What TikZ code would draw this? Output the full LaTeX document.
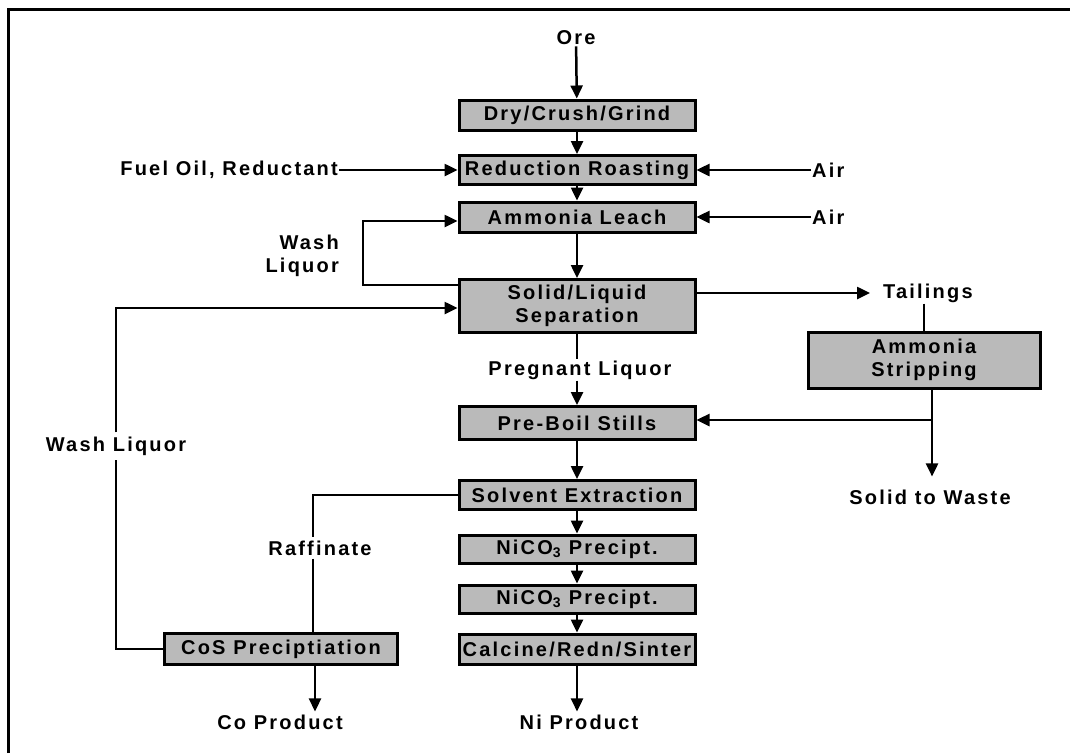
\documentclass[tikz,border=0pt]{standalone}
\usepackage{fontspec}
\setmainfont{Liberation Sans}[LetterSpace=11]
\usetikzlibrary{arrows.meta}
\newcommand\dgfont{\fontsize{20}{23}\selectfont\bfseries}
\begin{document}
\begin{tikzpicture}[x=1pt,y=-1pt,
  box/.style={draw, line width=3pt, fill=black!27, minimum width=236pt, inner sep=0pt, align=center, font=\dgfont},
  lbl/.style={inner sep=1pt, align=center, font=\dgfont},
  conn/.style={line width=2.5pt},
  arr/.style={line width=2.5pt, -{Triangle[length=13pt,width=12pt]}},
]
\useasboundingbox (0,0) rectangle (1070,753);
\draw[line width=3pt] (8.5,753) -- (8.5,9.5) -- (1070,9.5);

% main column
\node[lbl] (ore) at (576,38) {Ore};
\node[box, minimum height=30pt] (dry) at (577,115) {Dry/Crush/Grind};
\node[box, minimum height=29pt] (red) at (577,170) {Reduction Roasting};
\node[box, minimum height=30pt] (leach) at (577,217) {Ammonia Leach};
\node[box, minimum height=53pt] (sep) at (577,306) {Solid/Liquid\\Separation};
\node[lbl] (preg) at (580,370) {Pregnant Liquor};
\node[box, minimum height=33pt] (pre) at (577,423) {Pre-Boil Stills};
\node[box, minimum height=29pt] (sx) at (577,495) {Solvent Extraction};
\node[box, minimum height=28pt] (ni1) at (577,549) {NiCO\textsubscript{3} Precipt.};
\node[box, minimum height=28pt] (ni2) at (577,599) {NiCO\textsubscript{3} Precipt.};
\node[box, minimum height=30pt] (calc) at (577,649) {Calcine/Redn/Sinter};
\node[lbl] (niprod) at (579,722) {Ni Product};

% left side
\node[lbl, anchor=east] (fuel) at (339,170) {Fuel Oil, Reductant};
\node[lbl, align=right, anchor=east] (wash1) at (340,256) {Wash\\Liquor};
\node[lbl, inner sep=4pt] (wash2) at (116,446) {Wash Liquor};
\node[lbl, inner sep=3pt] (raff) at (320,548) {Raffinate};
\node[box, minimum width=233pt, minimum height=31pt] (cos) at (281,649) {CoS Preciptiation};
\node[lbl] (coprod) at (280,722) {Co Product};

% right side
\node[lbl, anchor=west] (air1) at (811,170) {Air};
\node[lbl, anchor=west] (air2) at (811,217) {Air};
\node[lbl, anchor=west] (tail) at (882,293) {Tailings};
\node[box, minimum width=232pt, minimum height=56pt] (strip) at (924,360) {Ammonia\\Stripping};
\node[lbl] (waste) at (930,497) {Solid to Waste};

\coordinate (wl) at (363,285);
\coordinate (rx) at (313,495);
\coordinate (cx) at (315,700);
\coordinate (lx) at (116,649);
\coordinate (wj) at (932,420);
\coordinate (tx) at (924,300);

% main flow
\draw[arr] (ore) -- (dry);
\draw[arr] (dry) -- (red);
\draw[arr] (red) -- (leach);
\draw[arr] (leach) -- (sep);
\draw[conn] (sep.south) -- (preg.north -| sep.south);
\draw[arr] (preg.south -| sep.south) -- (pre.north);
\draw[arr] (pre) -- (sx);
\draw[arr] (sx) -- (ni1);
\draw[arr] (ni1) -- (ni2);
\draw[arr] (ni2) -- (calc);
\draw[arr, shorten >=2pt] (calc.south) -- (niprod.north -| calc.south);

% inputs
\draw[arr] (fuel.east) -- (red.west);
\draw[arr] (air1.west) -- (red.east);
\draw[arr] (air2.west) -- (leach.east);

% wash liquor loops
\draw[arr] (sep.west |- wl) -- (wl) -- (wl |- 0,221) -- (leach.west |- 0,221);
\draw[conn] (cos.west) -- (lx) -- (lx |- wash2.south);
\draw[arr] (lx |- wash2.north) -- (lx |- 0,308) -- (sep.west |- 0,308);

% raffinate
\draw[conn] (sx.west) -- (rx) -- (rx |- raff.north);
\draw[conn] (rx |- raff.south) -- (rx |- cos.north);
\draw[arr, shorten >=2pt] (cos.south -| cx) -- (coprod.north -| cx);

% tailings
\draw[arr, shorten >=12pt] (sep.east |- tail) -- (tail.west);
\draw[conn, line width=1.5pt] (tx |- tail.south) -- (strip.north -| tx);
\draw[conn] (strip.south -| wj) -- (wj);
\draw[arr] (wj) -- (pre.east |- wj);
\draw[arr, shorten >=12pt] (wj) -- (wj |- waste.north);
\end{tikzpicture}
\end{document}
